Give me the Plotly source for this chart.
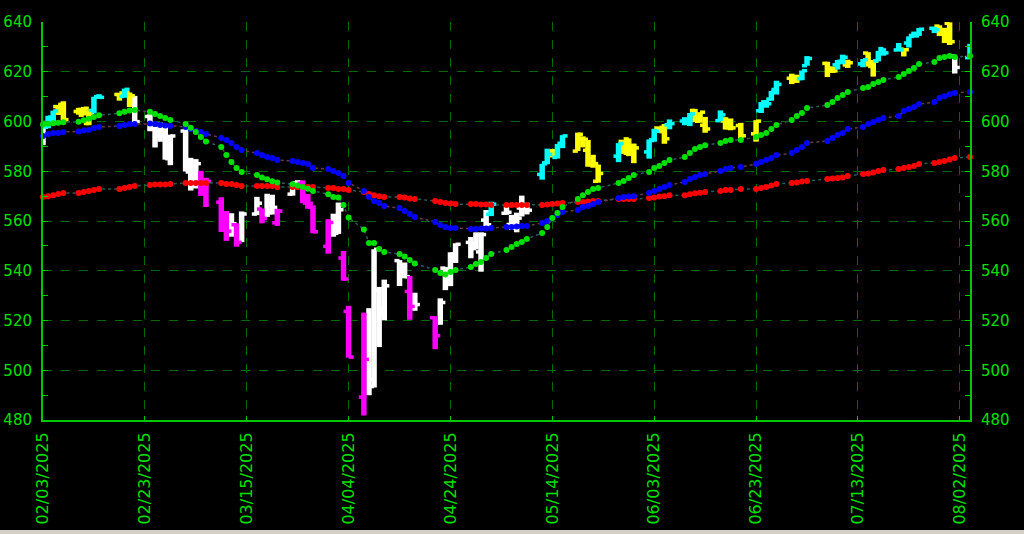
import pandas as pd
import plotly.graph_objects as go

# ---------------- data ----------------
MONTH_DAYS = {
    2: [3, 4, 5, 6, 7, 10, 11, 12, 13, 14, 18, 19, 20, 21, 24, 25, 26, 27, 28],
    3: [3, 4, 5, 6, 7, 10, 11, 12, 13, 14, 17, 18, 19, 20, 21, 24, 25, 26, 27, 28, 31],
    4: [1, 2, 3, 4, 7, 8, 9, 10, 11, 14, 15, 16, 17, 21, 22, 23, 24, 25, 28, 29, 30],
    5: [1, 2, 5, 6, 7, 8, 9, 12, 13, 14, 15, 16, 19, 20, 21, 22, 23, 27, 28, 29, 30],
    6: [2, 3, 4, 5, 6, 9, 10, 11, 12, 13, 16, 17, 18, 20, 23, 24, 25, 26, 27, 30],
    7: [1, 2, 3, 7, 8, 9, 10, 11, 14, 15, 16, 17, 18, 21, 22, 23, 24, 25, 28, 29, 30, 31],
    8: [1, 4],
}
DATES = [f"2025-{m:02d}-{d:02d}" for m, days in MONTH_DAYS.items() for d in days]

OPEN = [
    592.67, 597.83, 600.64, 605.99, 606.89, 604.03, 602.55, 599.20, 604.48, 609.94, 610.88, 610.08, 611.54, 610.16, 602.02, 597.15, 595.93, 596.85, 585.56,
    596.18, 579.71, 576.69, 575.48, 570.90, 567.59, 559.40, 562.17, 558.49, 556.11, 562.79, 564.80, 562.83, 563.33, 559.28, 570.80, 575.30, 575.19, 567.18, 565.53, 549.83,
    557.45, 555.05, 545.11, 523.67, 489.19, 521.11, 493.44, 532.17, 523.01, 544.07, 539.67, 531.68, 527.64, 521.15, 519.11, 541.06, 536.46, 546.65, 551.39, 548.91, 547.57,
    560.37, 562.69, 563.11, 558.60, 560.00, 565.24, 566.46, 578.72, 583.41, 587.81, 585.56, 591.25, 588.10, 593.09, 588.44, 582.66, 575.98, 586.07, 592.00, 593.00, 588.93,
    587.76, 592.34, 597.37, 597.63, 598.66, 600.21, 600.37, 604.44, 600.10, 598.50, 600.35, 600.21, 598.30, 598.38, 595.04, 604.33, 607.91, 608.99, 612.88, 617.38,
    616.36, 617.24, 622.45, 623.36, 621.35, 622.77, 624.20, 622.74, 623.16, 627.52, 623.74, 624.40, 629.30, 628.77, 629.10, 631.55, 634.60, 635.09, 637.48, 638.35, 635.92, 639.46,
    626.30, 625.67,
]
HIGH = [
    600.29, 602.30, 604.37, 606.45, 608.13, 605.50, 605.86, 604.55, 609.94, 610.99, 611.49, 613.23, 611.68, 610.30, 602.89, 597.89, 599.58, 598.02, 594.72,
    597.34, 585.39, 584.88, 580.17, 577.39, 569.54, 564.02, 563.11, 559.11, 563.83, 569.71, 565.02, 570.95, 570.57, 564.89, 575.15, 576.41, 576.33, 570.90, 566.27, 560.71,
    562.94, 567.42, 547.97, 525.87, 523.17, 524.97, 548.62, 533.50, 536.43, 544.28, 543.31, 537.89, 531.17, 521.70, 528.91, 541.54, 547.43, 551.05, 553.58, 555.45, 555.45,
    564.41, 567.75, 566.74, 562.46, 563.35, 570.20, 567.33, 583.00, 589.08, 588.97, 590.97, 594.50, 595.54, 594.05, 592.58, 586.62, 582.70, 591.31, 592.56, 593.20, 591.13,
    592.79, 597.08, 597.71, 599.00, 600.83, 601.75, 603.42, 605.06, 603.75, 601.85, 604.45, 601.75, 601.22, 599.46, 600.54, 607.85, 608.61, 612.31, 616.39, 619.22,
    618.83, 620.49, 626.28, 624.03, 622.11, 624.72, 626.87, 624.86, 625.16, 627.86, 624.73, 628.40, 629.47, 631.54, 629.48, 634.21, 636.15, 637.58, 638.04, 638.67, 637.68, 639.85,
    626.34, 631.22,
]
LOW = [
    590.49, 597.28, 598.58, 602.63, 600.05, 602.74, 602.43, 598.51, 603.20, 609.07, 608.38, 609.56, 605.82, 599.47, 596.08, 589.56, 591.86, 584.65, 582.44,
    579.90, 572.25, 573.08, 570.12, 565.63, 555.59, 552.02, 553.69, 549.68, 551.49, 562.35, 559.06, 561.63, 562.60, 558.03, 570.20, 573.69, 567.19, 564.94, 555.07, 546.87,
    553.68, 554.81, 536.00, 505.06, 481.80, 489.96, 493.06, 509.32, 520.07, 533.86, 536.96, 520.29, 523.91, 508.46, 518.28, 532.20, 533.81, 543.13, 545.02, 548.55, 539.62,
    557.93, 561.96, 562.48, 556.45, 555.46, 561.83, 562.65, 576.61, 582.84, 585.54, 585.10, 589.28, 588.10, 589.60, 581.82, 581.41, 575.42, 583.66, 586.99, 586.07, 583.24,
    585.06, 591.85, 595.49, 591.05, 596.86, 598.49, 598.15, 599.70, 599.52, 595.48, 600.22, 596.76, 596.47, 592.86, 591.89, 603.41, 605.54, 608.37, 610.83, 615.04,
    615.52, 616.61, 622.43, 617.87, 619.52, 620.91, 623.01, 621.53, 621.80, 622.06, 618.05, 624.18, 626.46, 628.34, 626.15, 629.72, 633.99, 634.40, 635.54, 634.34, 631.54, 630.77,
    619.29, 625.13,
]
CLOSE = [
    597.77, 601.78, 604.22, 606.32, 600.77, 604.85, 605.31, 603.36, 609.73, 609.70, 611.49, 612.93, 610.38, 599.94, 597.21, 594.24, 594.54, 585.05, 594.18,
    583.77, 576.86, 583.06, 572.71, 575.92, 560.58, 555.92, 558.87, 551.42, 562.81, 567.15, 561.02, 567.13, 565.49, 563.98, 574.08, 575.46, 568.59, 567.08, 555.66, 559.39,
    560.97, 564.52, 536.70, 505.28, 504.38, 496.48, 548.62, 524.58, 533.94, 539.12, 537.61, 525.66, 526.41, 513.88, 527.25, 535.42, 546.69, 550.64, 550.85, 554.32, 554.54,
    558.47, 566.76, 563.51, 558.80, 561.15, 565.06, 564.34, 582.99, 586.84, 587.59, 590.46, 594.20, 594.85, 592.85, 582.86, 583.09, 579.11, 591.15, 587.21, 590.05, 589.39,
    592.71, 596.09, 595.93, 593.05, 599.14, 599.68, 603.08, 601.36, 603.75, 597.00, 602.68, 597.53, 597.44, 594.28, 600.15, 606.78, 607.12, 611.87, 614.91, 617.85,
    617.65, 620.45, 625.34, 620.68, 620.34, 624.06, 625.82, 623.62, 624.81, 622.14, 624.22, 628.04, 627.58, 628.77, 628.86, 634.21, 634.42, 637.10, 636.94, 635.26, 634.46, 632.08,
    621.72, 631.17,
]
# bar signal: C=cyan, Y=yellow, W=white, M=magenta
SIGNAL = list(
    "WCCYYYYYCCYCYWWWWWW"
    "WWWMMMMWMWWMWWMWWMMMM"
    "WWMMMWWWWWWMWMWWWWWWW"
    "WCWWWWWCCYCCYYYYYCYYY"
    "CCYYCCCYYYCYYYYCCCCY"
    "YCCYYCCYCYYCCCYCCCCYYY"
    "WC"
)
MA_FAST = [
    598.8, 599.1, 599.3, 599.5, 599.7, 599.9, 600.5, 601.1, 601.8, 602.5, 603.3, 603.9, 604.4, 604.6, 603.9, 603.0, 602.2, 601.4, 600.6,
    599.0, 597.5, 595.8, 593.8, 592.0, 589.7, 586.5, 583.7, 581.3, 579.7, 578.5, 577.5, 576.8, 576.0, 575.5, 574.8, 574.3, 573.7, 573.0, 572.1, 570.8,
    569.6, 569.4, 566.4, 561.4, 556.6, 551.2, 551.2, 548.7, 547.5, 546.7, 545.7, 544.3, 542.9, 540.3, 539.1, 538.5, 539.5, 540.3, 541.5, 542.7, 543.5,
    545.1, 546.7, 548.3, 549.5, 550.8, 551.6, 552.8, 555.2, 557.6, 561.2, 563.2, 565.6, 568.8, 570.4, 571.7, 572.9, 573.3, 575.3, 576.1, 577.3, 578.5,
    579.7, 581.3, 582.1, 583.3, 584.5, 585.7, 587.3, 588.9, 589.7, 590.5, 591.4, 592.2, 592.6, 592.6, 593.8, 594.6, 595.4, 597.0, 598.6, 600.6,
    602.2, 603.4, 605.4, 606.6, 607.8, 609.4, 610.7, 611.9, 613.5, 613.9, 615.1, 615.9, 616.7, 617.9, 619.1, 620.3, 621.5, 623.1, 623.9, 625.5, 625.9, 626.3,
    625.9, 626.3,
]
MA_MID = [
    594.2, 595.0, 595.4, 595.4, 595.8, 596.0, 596.4, 596.6, 597.4, 597.8, 598.2, 598.6, 599.0, 599.0, 599.2, 599.0, 598.6, 598.4, 598.2,
    597.8, 597.0, 596.2, 595.8, 595.0, 593.4, 592.6, 591.4, 589.7, 588.5, 587.3, 586.5, 585.7, 585.3, 584.5, 584.1, 583.7, 583.3, 582.9, 581.3, 580.9,
    580.1, 579.3, 578.1, 575.3, 572.1, 569.6, 568.0, 567.2, 566.0, 565.2, 564.0, 562.8, 561.6, 559.6, 558.4, 557.6, 557.2, 557.2, 556.8, 556.8, 557.0,
    557.0, 557.2, 557.6, 557.6, 557.8, 558.0, 558.0, 559.2, 560.0, 561.2, 562.4, 563.6, 564.4, 565.6, 566.0, 566.8, 567.6, 569.2, 569.6, 569.8, 570.0,
    571.3, 572.1, 572.9, 573.7, 574.5, 575.7, 576.9, 577.7, 578.5, 578.9, 580.1, 580.9, 581.3, 581.7, 582.9, 583.7, 584.5, 585.3, 586.5, 587.3,
    588.5, 589.7, 591.4, 592.2, 593.4, 594.6, 595.4, 597.0, 597.8, 599.0, 599.8, 600.6, 601.4, 602.2, 604.2, 605.0, 605.8, 607.0, 607.8, 609.4, 610.2, 611.0,
    611.5, 611.9,
]
MA_SLOW = [
    569.6, 570.0, 570.4, 570.9, 571.3, 571.3, 571.7, 572.1, 572.5, 572.9, 572.9, 573.3, 573.7, 574.1, 574.5, 574.7, 574.7, 574.7, 574.9,
    575.3, 575.3, 575.3, 575.3, 575.3, 575.3, 574.9, 574.9, 574.5, 574.1, 574.1, 574.1, 574.1, 574.1, 573.7, 573.7, 573.7, 573.7, 573.7, 573.7, 573.3,
    573.3, 572.9, 572.9, 572.5, 571.7, 570.9, 570.4, 570.0, 569.6, 569.6, 569.4, 569.0, 568.8, 568.0, 567.6, 567.2, 567.0, 566.8, 566.8, 566.8, 566.6,
    566.6, 566.4, 566.4, 566.4, 566.4, 566.4, 566.4, 566.4, 566.6, 566.8, 567.0, 567.2, 567.6, 567.6, 567.8, 568.0, 568.0, 568.8, 568.8, 568.8, 568.8,
    569.2, 569.4, 569.8, 570.0, 570.4, 570.4, 570.8, 571.2, 571.4, 571.7, 572.1, 572.5, 572.5, 572.9, 572.9, 573.3, 573.7, 574.3, 574.9, 575.3,
    575.5, 575.9, 576.1, 576.9, 577.1, 577.3, 577.5, 578.1, 578.9, 579.1, 579.5, 580.1, 580.5, 580.9, 581.3, 581.7, 582.1, 582.9, 583.3, 583.7, 584.1, 584.7,
    585.3, 585.7,
]
TICK_DATES = ["2025-02-03", "2025-02-23", "2025-03-15", "2025-04-04", "2025-04-24",
              "2025-05-14", "2025-06-03", "2025-06-23", "2025-07-13", "2025-08-02"]
TICK_TEXT = ["02/03/2025", "02/23/2025", "03/15/2025", "04/04/2025", "04/24/2025",
             "05/14/2025", "06/03/2025", "06/23/2025", "07/13/2025", "08/02/2025"]

# ---------------- style ----------------
BAR_COLORS = {"W": "#ffffff", "M": "#ff00ff", "Y": "#ffff00", "C": "#00ffff"}
GREEN_TXT = "#00e000"
AXIS_GREEN = "#00c800"
GRID_GREEN = "#006c00"
FONT = "DejaVu Sans"

fig = go.Figure()

ts = [pd.Timestamp(d) for d in DATES]
off = pd.Timedelta(hours=24)

for code in ["W", "M", "Y", "C"]:
    vx, vy, tx, ty = [], [], [], []
    for i, t in enumerate(ts):
        if SIGNAL[i] != code:
            continue
        vx += [t, t, None]
        vy += [LOW[i], HIGH[i], None]
        tx += [t - off, t, None, t, t + off, None]
        ty += [OPEN[i], OPEN[i], None, CLOSE[i], CLOSE[i], None]
    col = BAR_COLORS[code]
    fig.add_trace(go.Scatter(x=vx, y=vy, mode="lines", line=dict(color=col, width=5.5),
                             hoverinfo="skip", showlegend=False))
    fig.add_trace(go.Scatter(x=tx, y=ty, mode="lines", line=dict(color=col, width=3.5),
                             hoverinfo="skip", showlegend=False))

for vals, mcol, lcol, yax in [(MA_SLOW, "#ff0000", "#2e5a5a", "y"),
                              (MA_MID, "#0000ff", "#6a3a50", "y"),
                              (MA_FAST, "#00e000", "#2e5a5a", "y2")]:
    fig.add_trace(go.Scatter(
        x=DATES, y=vals, mode="lines+markers", yaxis=yax,
        line=dict(color=lcol, width=1.5, dash="dot"),
        marker=dict(color=mcol, size=6, line=dict(width=0)),
        cliponaxis=False, showlegend=False, hoverinfo="skip"))

fig.update_layout(
    width=1024, height=534,
    margin=dict(l=43, r=54, t=22, b=114, autoexpand=False),
    paper_bgcolor="#000000", plot_bgcolor="#000000",
    showlegend=False,
    xaxis=dict(
        type="date", range=["2025-02-03", "2025-08-04"], automargin=False,
        tickvals=TICK_DATES, ticktext=TICK_TEXT, tickangle=-90,
        tickfont=dict(family=FONT, size=16, color=GREEN_TXT),
        showgrid=True, gridcolor=GRID_GREEN, griddash="dash", gridwidth=1,
        showline=True, linecolor=AXIS_GREEN, linewidth=2,
        ticks="inside", ticklen=4, tickcolor=AXIS_GREEN,
        ticklabelstandoff=4, zeroline=False,
    ),
    yaxis=dict(
        range=[480, 640], tick0=480, dtick=20, automargin=False,
        tickfont=dict(family=FONT, size=15, color=GREEN_TXT),
        showgrid=True, gridcolor=GRID_GREEN, griddash="dash", gridwidth=1,
        showline=True, linecolor=AXIS_GREEN, linewidth=2,
        ticks="inside", ticklen=5, tickcolor=AXIS_GREEN,
        minor=dict(dtick=10, ticks="inside", ticklen=5, tickcolor=AXIS_GREEN, showgrid=False),
        ticklabelstandoff=6, zeroline=False,
    ),
    yaxis2=dict(
        overlaying="y", side="right", anchor="x", matches="y", automargin=False,
        range=[480, 640], tick0=480, dtick=20,
        tickfont=dict(family=FONT, size=15, color=GREEN_TXT),
        showgrid=False, showline=True, linecolor=AXIS_GREEN, linewidth=2,
        ticks="inside", ticklen=5, tickcolor=AXIS_GREEN,
        minor=dict(dtick=10, ticks="inside", ticklen=5, tickcolor=AXIS_GREEN),
        ticklabelstandoff=6, zeroline=False,
    ),
    shapes=[dict(type="rect", xref="paper", yref="paper", x0=-0.06, x1=1.07,
                 y0=-0.30, y1=-0.2764, fillcolor="#d4d0c8", line=dict(width=0))],
)

fig.write_html("out.html", config={"displayModeBar": False},
               post_script="document.body.style.margin='0';document.body.style.background='#000';")
